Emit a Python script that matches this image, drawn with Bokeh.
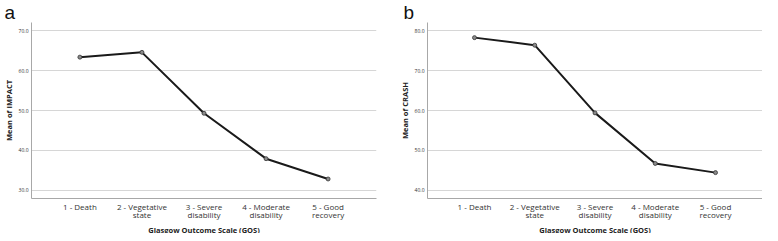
from bokeh.plotting import figure
from bokeh.models import Range1d, FixedTicker, NumeralTickFormatter, Title
from bokeh.layouts import row
from bokeh.embed import file_html
from bokeh.resources import INLINE

categories = ["1 - Death", "2 - Vegetative\nstate", "3 - Severe\ndisability",
              "4 - Moderate\ndisability", "5 - Good\nrecovery"]
gos = [1, 2, 3, 4, 5]
impact_mean = [63.4, 64.6, 49.3, 37.9, 32.8]
crash_mean = [78.3, 76.4, 59.4, 46.7, 44.4]
impact_ticks = [30, 40, 50, 60, 70]
crash_ticks = [40, 50, 60, 70, 80]
x_title = "Glasgow Outcome Scale (GOS)"

FONT = "Open Sans"


def make(letter, vals, ylabel, yrange, ticks, bl, br, letter_off):
    p = figure(width=381, height=233, output_backend="svg", toolbar_location=None,
               x_range=Range1d(0.22, 5.78), y_range=Range1d(*yrange),
               min_border_left=bl, min_border_right=br,
               min_border_top=20, min_border_bottom=0)
    p.border_fill_color = "white"
    p.title = Title(text=letter, text_font="Liberation Sans", text_font_size="19px",
                    text_font_style="normal", text_color="#111111",
                    text_line_height=0.5, standoff=-1, offset=letter_off, align="left")
    p.outline_line_color = None
    p.background_fill_color = "white"
    p.xgrid.visible = False
    p.ygrid.grid_line_color = "#d6d6d6"
    p.ygrid.grid_line_width = 1
    for ax in (p.xaxis[0], p.yaxis[0]):
        ax.axis_line_color = "#a8a8a8"
        ax.axis_line_width = 1
        ax.major_tick_line_color = None
        ax.minor_tick_line_color = None
        ax.major_tick_out = 0
        ax.major_tick_in = 0
        ax.minor_tick_out = 0
        ax.major_label_text_font = FONT
        ax.axis_label_text_font = FONT
        ax.axis_label_text_font_style = "bold"
        ax.axis_label_text_color = "#222222"
        ax.axis_label_text_font_size = "7.5px"
        ax.major_label_text_color = "#333333"
    p.xaxis.ticker = FixedTicker(ticks=gos)
    p.xaxis.major_label_overrides = {g: c for g, c in zip(gos, categories)}
    p.xaxis.major_label_text_font_size = "8px"
    p.xaxis.major_label_text_line_height = 0.78
    p.xaxis.major_label_standoff = 2
    p.yaxis.ticker = FixedTicker(ticks=ticks)
    p.yaxis.formatter = NumeralTickFormatter(format="0.0")
    p.yaxis.major_label_text_font_size = "5px"
    p.yaxis.major_label_standoff = 3
    p.yaxis.axis_label = ylabel
    p.yaxis.axis_label_standoff = 2

    p.add_layout(Title(text=x_title, text_font=FONT, text_font_size="7.5px",
                       text_font_style="bold", text_color="#222222",
                       align="center", standoff=-2, text_line_height=0.8), "below")

    p.line(gos, vals, line_color="#1a1a1a", line_width=2)
    p.scatter(gos, vals, size=4, fill_color="#8a8a8a", line_color="#333333", line_width=0.8)
    return p


pa = make("a", impact_mean, "Mean of IMPACT", (27.9, 72.1), impact_ticks, 30, 5, -27)
pb = make("b", crash_mean, "Mean of CRASH", (37.9, 82.1), crash_ticks, 46, 0, -24)

layout = row(pa, pb, spacing=0)
open("out.html", "w").write(file_html(layout, INLINE))
